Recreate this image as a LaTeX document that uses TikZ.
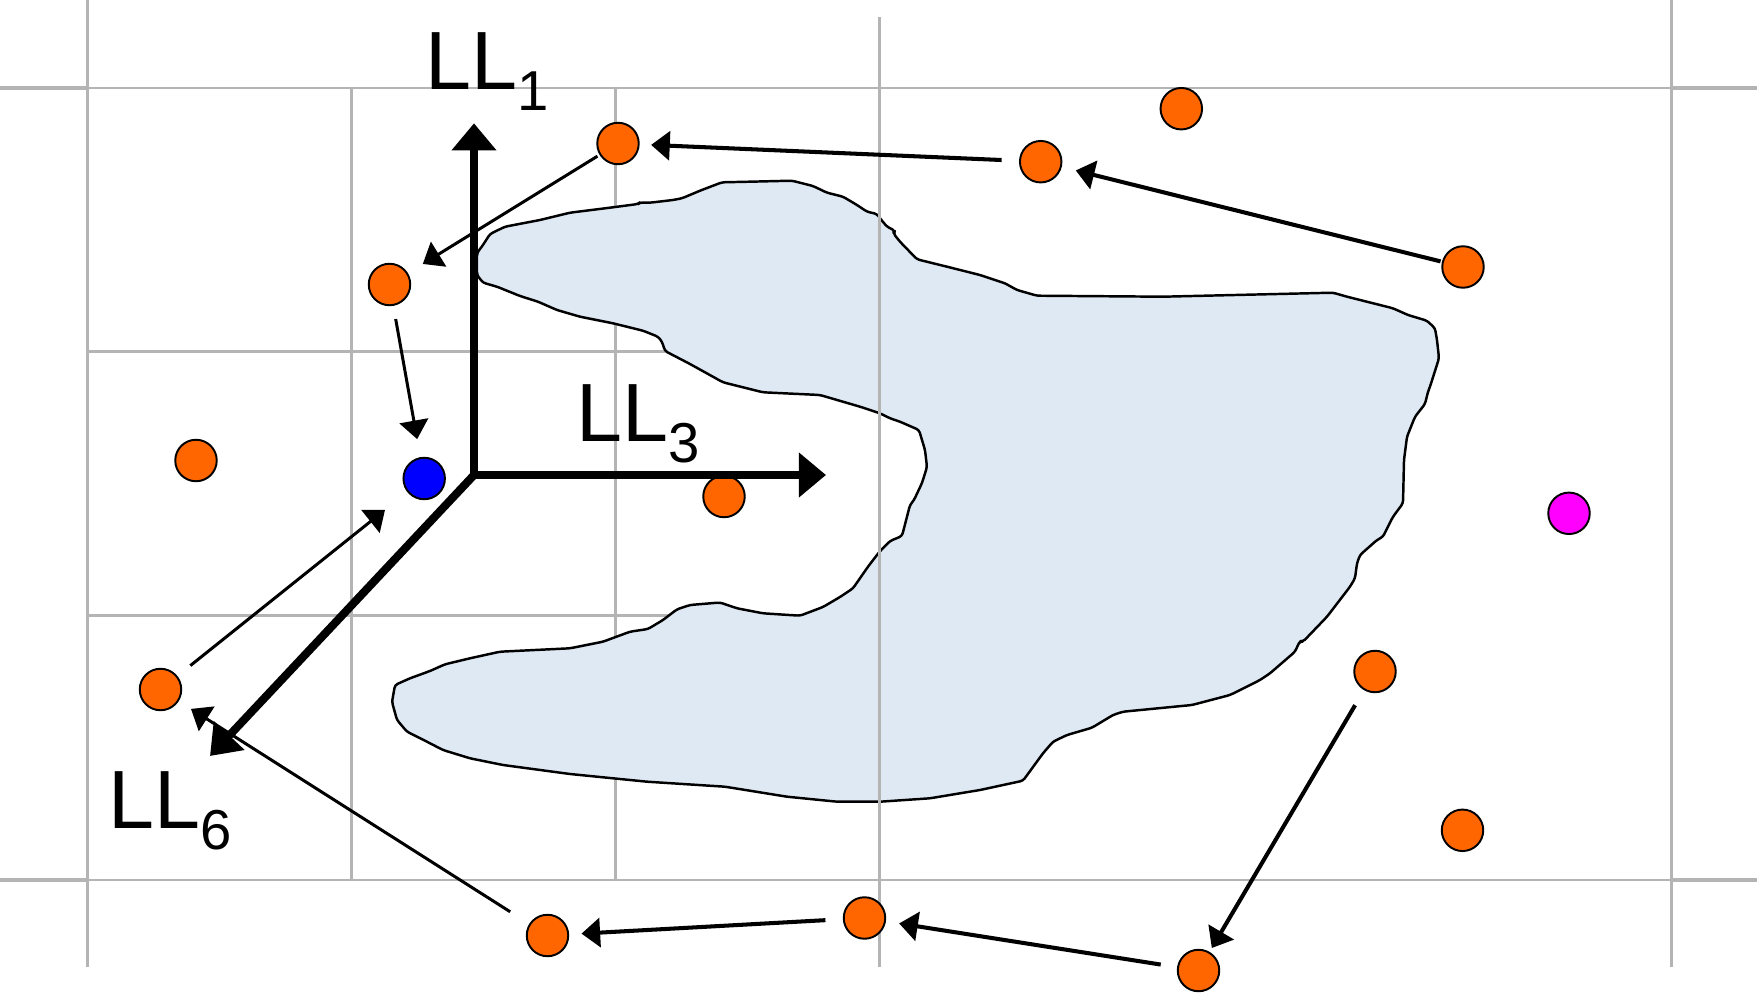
\documentclass[tikz,border=0pt]{standalone}
\usepackage{fontspec}
\setmainfont{Liberation Sans}
\usetikzlibrary{arrows.meta}

\definecolor{gridgray}{RGB}{180,180,180}
\definecolor{lakefill}{RGB}{223,233,244}
\definecolor{dotorange}{RGB}{255,102,0}
\definecolor{dotblue}{RGB}{0,0,255}
\definecolor{dotmagenta}{RGB}{255,0,255}

% lowered index digit for the axis names
\newcommand{\axisidx}[1]{\raisebox{-5.95pt}{\fontsize{16}{16}\selectfont #1}}

\begin{document}
\begin{tikzpicture}[x=0.01cm, y=-0.01cm,
  gridthin/.style={draw=gridgray, line width=0.6pt},
  gridthick/.style={draw=gridgray, line width=1.1pt},
  lake/.style={draw=black, fill=lakefill, line width=0.7pt, line join=round, rounded corners=0.8pt},
  pt/.style={circle, draw=black, line width=0.55pt, minimum size=11.8pt, inner sep=0pt},
  orangept/.style={pt, fill=dotorange},
  axisline/.style={line width=2.5pt, line join=miter,
    arrows={Triangle[length=7.7pt,width=12.3pt]-Triangle[length=7.7pt,width=12.3pt]}},
  axisdiag/.style={line width=2.3pt, -{Triangle[length=8pt,width=11.5pt]}},
  conn/.style={line width=0.85pt, -{Triangle[length=5.3pt,width=8.2pt]}},
  connbold/.style={conn, line width=1.15pt},
  axislabel/.style={anchor=base west, inner sep=0pt, font=\fontsize{23.5}{24}\selectfont}
]
\useasboundingbox (0,0) rectangle (1757,994);

% ---- grid: inner lines ----
\draw[gridthin] (87.5,87.7) -- (1671.5,87.7);
\draw[gridthin] (87.5,879.7) -- (1671.5,879.7);
\draw[gridthin] (87.5,351.5) -- (879.5,351.5);
\draw[gridthin] (87.5,615.5) -- (879.5,615.5);
\draw[gridthin] (87.5,87.7) -- (87.5,879.7);
\draw[gridthin] (351.5,87.7) -- (351.5,879.7);
\draw[gridthin] (615.5,87.7) -- (615.5,879.7);
\draw[gridthin] (1671.5,87.7) -- (1671.5,879.7);
% ---- grid: outer stubs ----
\draw[gridthick] (0,87.7) -- (87.5,87.7);
\draw[gridthick] (1671.5,87.7) -- (1757,87.7);
\draw[gridthick] (0,879.7) -- (87.5,879.7);
\draw[gridthick] (1671.5,879.7) -- (1757,879.7);
\draw[gridthick] (87.5,0) -- (87.5,87.7);
\draw[gridthick] (87.5,879.7) -- (87.5,967);
\draw[gridthick] (1671.5,0) -- (1671.5,87.7);
\draw[gridthick] (1671.5,879.7) -- (1671.5,967);
\draw[gridthick] (879.5,17) -- (879.5,105);
\draw[gridthick] (879.5,879.7) -- (879.5,967);

% ---- region outline ----
\draw[lake] (477,253) -- (483,245) -- (490,234) -- (505,226.7) -- (540,220) -- (570,212.7)
  -- (613,207.3) -- (638,204) -- (640,202.5) -- (650,202.7) -- (673,200) -- (682,198.3)
  -- (700,190.7) -- (722,182.3) -- (750,181.7) -- (792,180.7) -- (813,186) -- (827,192.7)
  -- (843,196.7) -- (857,205) -- (867,211.7) -- (877,214) -- (880,218.3) -- (887,226.7)
  -- (895,230.7) -- (893.3,233.3) -- (900,241.7) -- (917,259.3) -- (947,266.7) -- (980,275)
  -- (1005,283.3) -- (1017,290) -- (1037,295.7) -- (1163,296.7) -- (1333,292.7) -- (1347,296.7)
  -- (1393,308.3) -- (1408,315) -- (1427,320.7) -- (1435,328.3) -- (1437,340) -- (1439,358.3)
  -- (1430,386.7) -- (1428,391.7) -- (1425,404) -- (1415,416.7) -- (1407,436.7) -- (1404,460)
  -- (1403,503.3) -- (1393,516.7) -- (1383,536.7) -- (1377,540) -- (1360,555) -- (1357,563.3)
  -- (1355,578.3) -- (1350,586.7) -- (1327,616.7) -- (1303,641.7) -- (1300,641) -- (1298,645)
  -- (1295,651.7) -- (1270,673.3) -- (1260,680) -- (1230,695) -- (1192,705) -- (1123,711.7)
  -- (1113,715) -- (1092,727.7) -- (1067,735) -- (1053,741.7) -- (1043,753.3) -- (1023,780.7)
  -- (980,790) -- (930,798.3) -- (880,801.7) -- (837,801.7) -- (787,796.7) -- (725,786.7)
  -- (647,781.7) -- (570,774) -- (503,765) -- (470,758.3) -- (443,750) -- (425,740.7)
  -- (407,731.7) -- (397,720) -- (392,702) -- (395,685) -- (410,678.3) -- (430,671)
  -- (445,664.3) -- (470,658.3) -- (500,651.7) -- (570,648.3) -- (603,641.7) -- (630,631.7)
  -- (648,629) -- (663,620) -- (677,609.3) -- (690,605) -- (720,602.5) -- (737,608.3)
  -- (763,613.3) -- (800,615.7) -- (823,607) -- (840,597) -- (853,588.3) -- (868,566.7)
  -- (879,552.3) -- (890,541) -- (902,536) -- (910,505) -- (914,500) -- (922,483)
  -- (927,467) -- (925,450) -- (919,430) -- (900,421.7) -- (890,418.3) -- (880,413.3)
  -- (860,406.7) -- (820,395) -- (763,392.3) -- (747,388.3) -- (723,382.3) -- (690,364)
  -- (665,351) -- (662,341.7) -- (658,336.7) -- (643,330.7) -- (613,323.3) -- (580,316.7)
  -- (557,310) -- (538,301.7) -- (520,296) -- (497,286.7) -- (483,282.7) -- (477,275) -- cycle;

% grid line that stays visible across the region
\draw[gridthin] (879.5,105) -- (879.5,879.7);

% ---- sample points ----
\node[orangept] (a) at (618,143.5) {};
\node[orangept] (b) at (1040.7,161.7) {};
\node[orangept] (c) at (1463,267) {};
\node[orangept] (d) at (389.5,284.5) {};
\node[pt, fill=dotblue] (e) at (424.2,478.5) {};
\node[orangept] (f) at (160.5,689.5) {};
\node[orangept] (g) at (547.5,935.5) {};
\node[orangept] (h) at (864.5,918) {};
\node[orangept] (i) at (1198.5,970.5) {};
\node[orangept] (j) at (1375,671.5) {};
\node[orangept] (k) at (1181.3,108.7) {};
\node[orangept] (l) at (196,460.5) {};
\node[orangept] (m) at (724,496.5) {};
\node[orangept] (n) at (1462.5,830.3) {};
\node[pt, fill=dotmagenta] (p) at (1569,513.3) {};

% ---- chain of moves (gaps measured from the circle borders) ----
\draw[connbold, shorten <=4.95pt, shorten >=3.25pt] (b) -- (a);
\draw[connbold, shorten <=0.4pt, shorten >=4.1pt] (c) -- (b);
\draw[conn, shorten <=0.7pt, shorten >=4.95pt] (a) -- (d);
\draw[conn, shorten <=3.8pt, shorten >=5.2pt] (d) -- (e);
\draw[conn, shorten <=4.7pt, shorten >=8.1pt] (f) -- (e);
\draw[conn, shorten <=6.4pt, shorten >=4.1pt] (g) -- (f);
\draw[connbold, shorten <=4.95pt, shorten >=3.5pt] (h) -- (g);
\draw[connbold, shorten <=4.7pt, shorten >=3.8pt] (i) -- (h);
\draw[connbold, shorten <=4.95pt, shorten >=1.25pt] (j) -- (i);

% ---- axes ----
\coordinate (o) at (474,475);
\coordinate (up) at (474,123.3);
\coordinate (right) at (826,475);
\coordinate (diag) at (210,756);
\draw[axisline] (up) -- (o) -- (right);
\draw[axisdiag] (o) -- (diag);

\node[axislabel] (ll1) at (424.7,89.3) {LL\axisidx{1}};
\node[axislabel] (ll3) at (575.7,441.7) {LL\axisidx{3}};
\node[axislabel] (ll6) at (108,828.3) {LL\axisidx{6}};
\end{tikzpicture}
\end{document}
